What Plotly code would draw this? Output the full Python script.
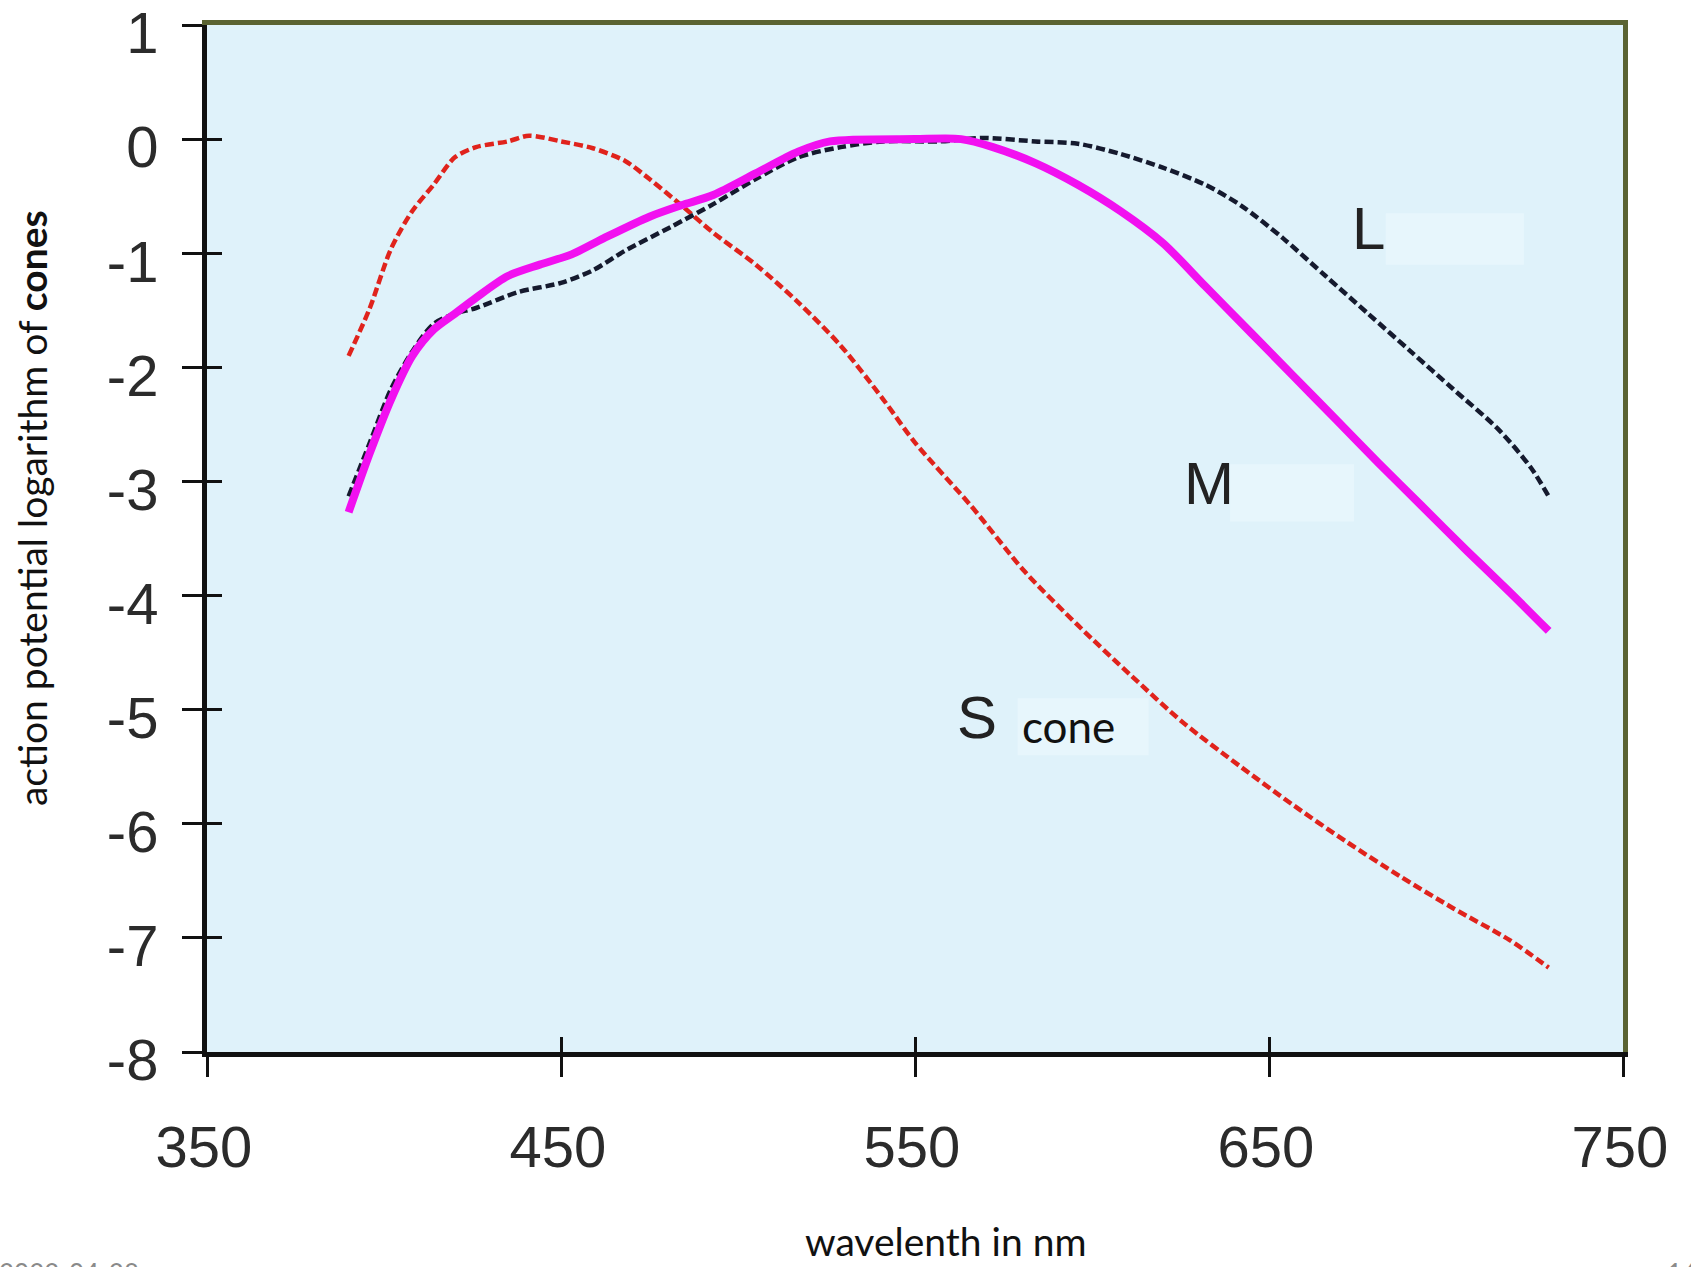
import plotly.graph_objects as go

# ---- data ----
s_nm = [390, 396, 402, 408, 414, 420, 426, 435, 441, 450, 459, 468, 475, 484, 493, 505,
        517, 529, 541, 550, 566, 581, 596, 611, 626, 642, 657, 672, 687, 702, 718, 729]
s_val = [-1.90, -1.48, -0.96, -0.63, -0.40, -0.16, -0.07, -0.02, 0.03, -0.02, -0.08, -0.19,
         -0.35, -0.58, -0.82, -1.10, -1.43, -1.81, -2.28, -2.66, -3.22, -3.79, -4.26, -4.70,
         -5.12, -5.50, -5.84, -6.16, -6.46, -6.74, -7.02, -7.26]

l_nm = [390, 396, 402, 408, 414, 420, 426, 438, 450, 459, 468, 481, 493, 505, 517, 529, 541,
        557, 569, 584, 596, 608, 620, 632, 642, 654, 666, 678, 690, 702, 715, 724, 729]
l_val = [-3.13, -2.66, -2.19, -1.86, -1.62, -1.53, -1.48, -1.34, -1.26, -1.15, -0.98, -0.77,
         -0.57, -0.35, -0.16, -0.07, -0.02, -0.02, 0.01, -0.02, -0.04, -0.13, -0.25, -0.40,
         -0.58, -0.87, -1.20, -1.53, -1.86, -2.19, -2.55, -2.88, -3.13]

m_nm = [390, 396, 402, 408, 414, 420, 426, 435, 444, 453, 462, 475, 484, 493, 505, 517, 526,
        550, 563, 572, 584, 596, 608, 620, 632, 645, 657, 669, 681, 693, 706, 718, 729]
m_val = [-3.27, -2.75, -2.28, -1.90, -1.67, -1.53, -1.39, -1.20, -1.10, -1.01, -0.87, -0.68,
         -0.58, -0.49, -0.30, -0.11, -0.02, 0.00, 0.00, -0.07, -0.21, -0.40, -0.63, -0.91,
         -1.29, -1.70, -2.08, -2.46, -2.84, -3.21, -3.61, -3.97, -4.31]

x_ticks = [350, 450, 550, 650, 750]
x_tick_text = ["350", "450", "550", "650", "750"]
y_ticks = [1, 0, -1, -2, -3, -4, -5, -6, -7, -8]
y_tick_text = ["1", "0", "-1", "-2", "-3", "-4", "-5", "-6", "-7", "-8"]
x_range = [350, 750]
y_range = [-8, 1]

TICK_FONT = dict(family="Liberation Sans, Arial, sans-serif", size=58, color="#2b2b2b")
TEXT_FONT = "Lato, Carlito, Calibri, sans-serif"

fig = go.Figure()

fig.add_trace(go.Scatter(x=s_nm, y=s_val, mode="lines", name="S",
                         line=dict(color="#e0231c", width=4.5, dash="9px,4px", shape="spline",
                                   smoothing=0.8)))
fig.add_trace(go.Scatter(x=l_nm, y=l_val, mode="lines", name="L",
                         line=dict(color="#151a2e", width=4.5, dash="9px,4px", shape="spline",
                                   smoothing=0.8)))
fig.add_trace(go.Scatter(x=m_nm, y=m_val, mode="lines", name="M",
                         line=dict(color="#f210f0", width=8, shape="spline", smoothing=0.8)))
# empty traces so the overlay axes are rendered
fig.add_trace(go.Scatter(x=[], y=[], xaxis="x2", yaxis="y2", showlegend=False, hoverinfo="skip"))
fig.add_trace(go.Scatter(x=[], y=[], xaxis="x3", yaxis="y3", showlegend=False, hoverinfo="skip"))

common = dict(showgrid=False, zeroline=False)
fig.update_layout(
    width=1691, height=1267,
    margin=dict(l=207, r=68, t=25, b=215, autoexpand=False),
    paper_bgcolor="white",
    plot_bgcolor="#dff2fa",
    showlegend=False,
    xaxis=dict(range=x_range, tickvals=x_ticks, ticktext=x_tick_text, ticks="outside",
               ticklen=20, tickwidth=3, tickcolor="#111", showline=True, linecolor="#111",
               linewidth=5, tickfont=TICK_FONT, ticklabelstandoff=20, ticklabelshift=-3,
               ticklabeloverflow="allow", automargin=False, **common),
    yaxis=dict(range=y_range, tickvals=y_ticks, ticktext=y_tick_text, ticks="outside",
               ticklen=20, tickwidth=3, tickcolor="#111", showline=True, linecolor="#111",
               linewidth=5, tickfont=TICK_FONT, ticklabelstandoff=12, ticklabelshift=8,
               ticklabeloverflow="allow", automargin=False, **common),
    xaxis2=dict(range=x_range, tickvals=x_ticks, ticks="inside", ticklen=15, tickwidth=3,
                tickcolor="#111", showticklabels=False, showline=False, overlaying="x",
                side="bottom", anchor="y2", **common),
    yaxis2=dict(range=y_range, tickvals=y_ticks, ticks="inside", ticklen=15, tickwidth=3,
                tickcolor="#111", showticklabels=False, showline=False, overlaying="y",
                side="left", anchor="x2", **common),
    xaxis3=dict(range=x_range, showticklabels=False, ticks="", showline=True,
                linecolor="#5a6332", linewidth=5, overlaying="x", side="top", anchor="y3", **common),
    yaxis3=dict(range=y_range, showticklabels=False, ticks="", showline=True,
                linecolor="#5a6332", linewidth=5, overlaying="y", side="right", anchor="x3", **common),
)

# faint erased boxes
box_fill = "#e7f6fc"
for x0, x1, y0, y1 in [(683, 722, -1.10, -0.65), (639, 674, -3.35, -2.85), (579, 616, -5.4, -4.9)]:
    fig.add_shape(type="rect", xref="x", yref="y", x0=x0, x1=x1, y0=y0, y1=y1,
                  fillcolor=box_fill, line=dict(width=0), layer="below")

big = dict(family="Liberation Sans, Arial, sans-serif", size=60, color="#222")
fig.add_annotation(x=678, y=-0.78, xref="x", yref="y", text="L", showarrow=False, font=big)
fig.add_annotation(x=633, y=-3.02, xref="x", yref="y", text="M", showarrow=False, font=big)
fig.add_annotation(x=567.5, y=-5.07, xref="x", yref="y", text="S", showarrow=False, font=big)
fig.add_annotation(x=593.5, y=-5.14, xref="x", yref="y", text="cone", showarrow=False,
                   font=dict(family=TEXT_FONT, size=44, color="#111"))

# axis titles
fig.add_annotation(x=-0.124, y=0.530, xref="paper", yref="paper", textangle=-90,
                   text="action potential logarithm of <b>cones</b>", showarrow=False,
                   xanchor="center", yanchor="middle",
                   font=dict(family=TEXT_FONT, size=39, color="#111"))
fig.add_annotation(x=0.522, y=-0.160, xref="paper", yref="paper", text="wavelenth in nm",
                   showarrow=False, xanchor="center", yanchor="top",
                   font=dict(family=TEXT_FONT, size=39, color="#111"))

# footer (cut off at the page bottom, as in the reference)
foot = dict(family=TEXT_FONT, size=26, color="#8a8a8a")
fig.add_annotation(x=-0.148, y=-0.198, xref="paper", yref="paper", text="2022-04-28",
                   showarrow=False, xanchor="left", yanchor="top", font=foot)
fig.add_annotation(x=0.365, y=-0.2015, xref="paper", yref="paper", text="Light and Color",
                   showarrow=False, xanchor="left", yanchor="top", font=foot)
fig.add_annotation(x=1.03, y=-0.198, xref="paper", yref="paper", text="14",
                   showarrow=False, xanchor="left", yanchor="top", font=foot)

fig.write_html("out.html")
